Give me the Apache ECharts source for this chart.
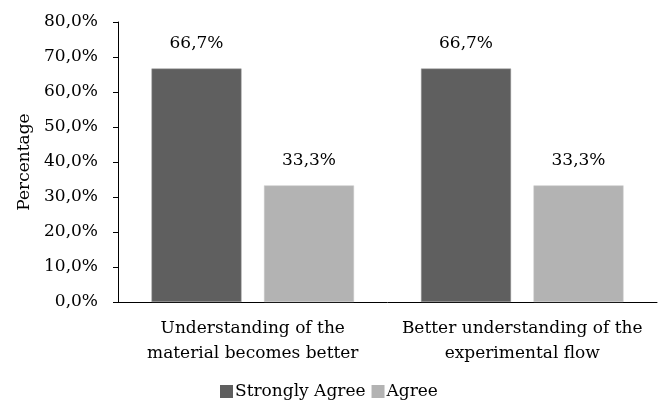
<!DOCTYPE html>
<html>
<head>
<meta charset="utf-8">
<script src="https://cdn.jsdelivr.net/npm/echarts@6/dist/echarts.min.js"></script>
<style>
  html, body { margin: 0; padding: 0; background: #fff; }
  #chart { width: 671px; height: 402px; }
</style>
</head>
<body>
<div id="chart"></div>
<script>
// Survey responses per statement, in percent
const categories = ['Understanding of the\nmaterial becomes better', 'Better understanding of the\nexperimental flow'];
const stronglyAgree = [66.7, 66.7];
const agree = [33.3, 33.3];
const yTicks = [0, 10, 20, 30, 40, 50, 60, 70, 80];

const FONT = 'DejaVu Serif';
const SIZE = 17;
const pct = v => v.toFixed(1).replace('.', ',') + '%';

const chart = echarts.init(document.getElementById('chart'));
chart.setOption({
  animation: false,
  textStyle: { fontFamily: FONT, color: '#000' },
  grid: { left: 118, right: 14, top: 22, bottom: 100 },
  legend: {
    left: 215, bottom: -3,
    itemWidth: 13, itemHeight: 13, itemGap: 6,
    icon: 'rect',
    itemStyle: { borderWidth: 0 },
    textStyle: { fontFamily: FONT, fontSize: SIZE, color: '#000', padding: [0, 0, 0, -3] },
    data: ['Strongly Agree', 'Agree']
  },
  xAxis: {
    type: 'category',
    data: categories,
    axisLine: { lineStyle: { color: '#000', width: 1 } },
    axisTick: { show: false },
    axisLabel: { interval: 0, fontFamily: FONT, fontSize: SIZE, color: '#000', lineHeight: 25, margin: 14 }
  },
  yAxis: {
    type: 'value',
    min: yTicks[0], max: yTicks[yTicks.length - 1], interval: 10,
    name: 'Percentage',
    nameLocation: 'middle',
    nameGap: 84,
    nameTextStyle: { fontFamily: FONT, fontSize: SIZE, color: '#000' },
    axisLine: { show: true, lineStyle: { color: '#000', width: 1 } },
    axisTick: { show: true, length: 5, lineStyle: { color: '#000' } },
    splitLine: { show: false },
    axisLabel: { fontFamily: FONT, fontSize: SIZE, color: '#000', margin: 20, formatter: pct }
  },
  series: [
    {
      name: 'Strongly Agree', type: 'bar', data: stronglyAgree,
      barWidth: 90, barGap: '25%',
      itemStyle: { color: '#5f5f5f', borderColor: '#9a9a9a', borderWidth: 0.5 },
      label: { show: true, position: 'top', distance: 16, fontFamily: FONT, fontSize: SIZE, color: '#000', formatter: p => pct(p.value) }
    },
    {
      name: 'Agree', type: 'bar', data: agree,
      barWidth: 90,
      itemStyle: { color: '#b3b3b3', borderColor: '#c8c8c8', borderWidth: 0.5 },
      label: { show: true, position: 'top', distance: 16, fontFamily: FONT, fontSize: SIZE, color: '#000', formatter: p => pct(p.value) }
    }
  ]
});
</script>
</body>
</html>
